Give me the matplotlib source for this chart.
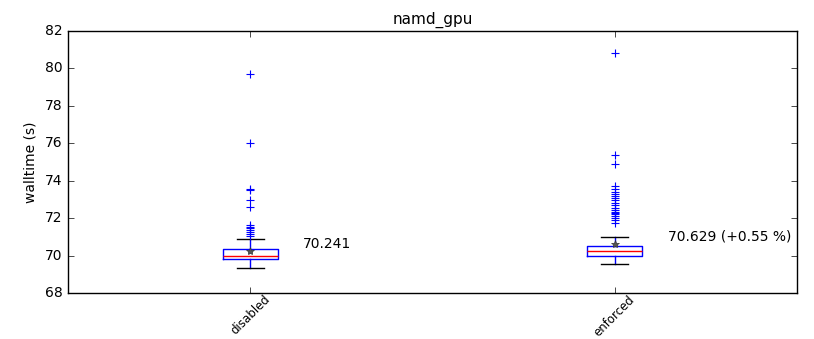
import matplotlib
matplotlib.use("Agg")
import matplotlib.pyplot as plt

# values
labels = ["disabled", "enforced"]
medians = [69.96, 70.23]
q1s = [69.81, 69.97]
q3s = [70.33, 70.51]
whisk_lo = [69.35, 69.55]
whisk_hi = [70.87, 70.99]
means = [70.241, 70.629]
mean_texts = ["70.241", "70.629 (+0.55 %)"]

fliers_disabled = [79.7, 76.0, 73.55, 73.5, 72.95, 72.6, 71.65, 71.55, 71.45,
                   71.35, 71.25, 71.15, 71.05]
fliers_enforced = [80.8, 75.4, 74.9, 73.7, 73.55, 73.4, 73.3, 73.2, 73.05,
                   72.95, 72.8, 72.7, 72.55, 72.45, 72.35, 72.3, 72.2, 72.1,
                   72.0, 71.9, 71.75]
fliers = [fliers_disabled, fliers_enforced]

plt.style.use("classic")
plt.rcParams["font.family"] = "DejaVu Sans"

fig = plt.figure(figsize=(8.14, 3.39), dpi=100)
ax = fig.add_axes([0.0835, 0.1357, 0.8955, 0.7729])

stats = []
for i in range(len(labels)):
    stats.append(dict(med=medians[i], q1=q1s[i], q3=q3s[i],
                      whislo=whisk_lo[i], whishi=whisk_hi[i],
                      mean=means[i], fliers=fliers[i], label=labels[i]))

ax.bxp(stats, positions=[1, 2], widths=0.15, showmeans=True,
       boxprops=dict(color="blue", lw=1),
       medianprops=dict(color="red", lw=1),
       whiskerprops=dict(color="blue", lw=1, linestyle="-"),
       capprops=dict(color="black", lw=1),
       flierprops=dict(marker="+", markeredgecolor="blue", markersize=5.5,
                       markeredgewidth=0.8, linestyle="none"),
       meanprops=dict(marker="*", markerfacecolor="#555555",
                      markeredgecolor="#333333", markersize=6))

for i in range(len(labels)):
    ax.text(i + 1 + 0.145, means[i], mean_texts[i], fontsize=10, va="bottom")

ax.set_xlim(0.5, 2.5)
ax.set_ylim(68, 82)
ax.set_yticks(range(68, 83, 2))
ax.set_xticks([1, 2])
ax.set_xticklabels(labels, rotation=45, fontsize=8.5)
ax.tick_params(axis="x", pad=0)
ax.tick_params(axis="y", labelsize=10)
ax.set_ylabel("walltime (s)", fontsize=10)
ax.set_title("namd_gpu", fontsize=11)

fig.savefig("out.png", dpi=100)
